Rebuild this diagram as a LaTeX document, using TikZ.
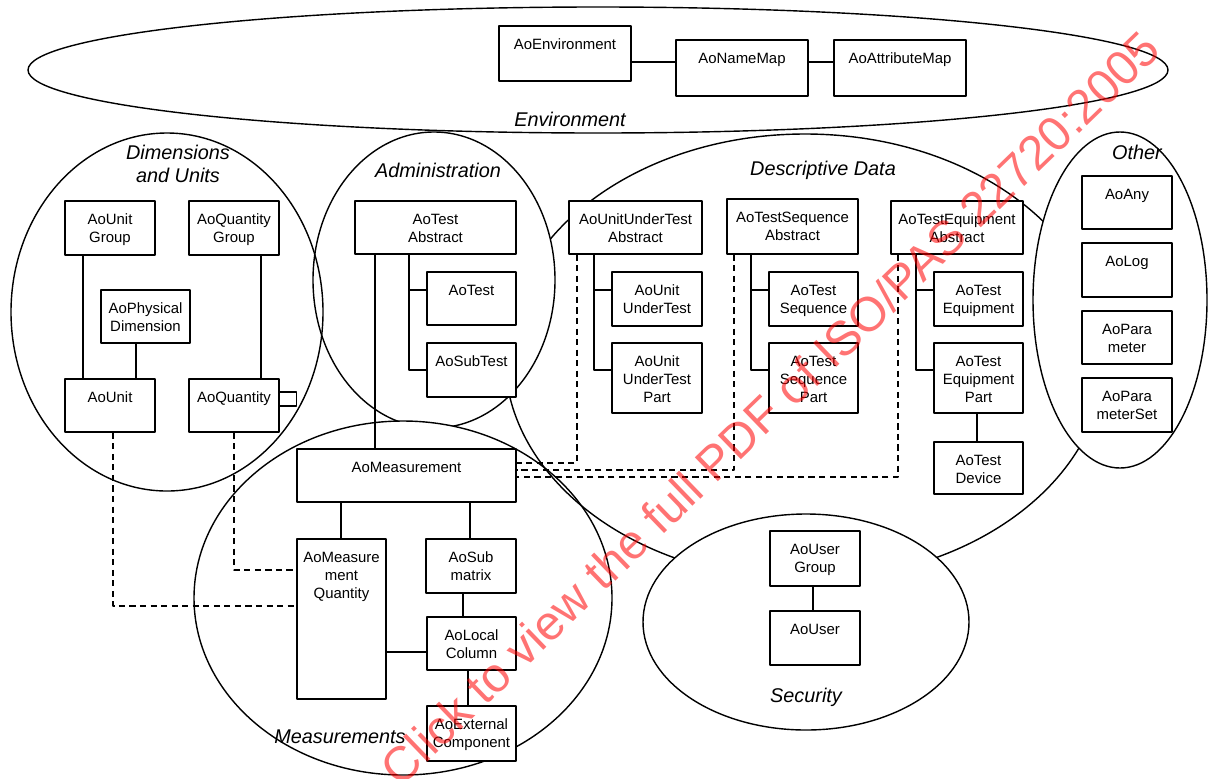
\documentclass[tikz,border=0pt]{standalone}
\usepackage{fontspec}
\setmainfont{Liberation Sans}
\usetikzlibrary{fit}
\tikzset{
  box/.style={draw,fill=white,inner sep=0pt,line width=.8pt,label={[boxtext]north:#1}},
  boxtext/.style={anchor=north,align=center,inner sep=0pt,yshift=-7.6pt,font=\fontsize{8.5}{10.2}\selectfont},
  group/.style={font=\fontsize{11.3}{13}\selectfont\itshape,align=center,inner sep=0pt},
  area/.style={line width=.8pt},
  tie/.style={line width=.8pt},
  link/.style={line width=.8pt,dash pattern=on 3.5pt off 2.5pt},
}
\begin{document}
\begin{tikzpicture}[x=0.02cm,y=-0.02cm,line join=round]
\useasboundingbox (0,0) rectangle (1209,778);
% groups
\draw[area] (805,357) ellipse [x radius=300,y radius=223];
\draw[area,fill=white] (434,280) ellipse [x radius=121,y radius=148];
\begin{scope}
  \clip (434,280) ellipse [x radius=125,y radius=152];
  \fill[white] (403,598) ellipse [x radius=209,y radius=177];
\end{scope}
\draw[area,fill=white] (1120,300) ellipse [x radius=87,y radius=168];
\draw[area,fill=white] (806,622) ellipse [x radius=163,y radius=108];
\draw[area] (167,312) ellipse [x radius=156,y radius=179];
\draw[area] (403,598) ellipse [x radius=209,y radius=177];
\draw[area] (598,70) ellipse [x radius=570,y radius=63];
\node[group] (envname) at (570,119) {Environment};
\node[group] (dimname) at (178,164) {Dimensions\\and Units};
\node[group] (admname) at (438,170) {Administration};
\node[group] (desname) at (823,170) {Descriptive Data};
\node[group] (othname) at (1137,152) {Other};
\node[group] (secname) at (806,697) {Security};
\node[group] (mesname) at (340,737) {Measurements};
% environment
\node[box={AoEnvironment},fit={(499,26)(631,81)}] (env) {};
\node[box={AoNameMap},fit={(676,40)(808,96)}] (nm) {};
\node[box={AoAttributeMap},fit={(834,40)(966,96)}] (am) {};
% dimensions and units
\node[box={AoUnit\\Group},fit={(65,201)(155,255)}] (ug) {};
\node[box={AoQuantity\\Group},fit={(189,201)(279,255)}] (qg) {};
\node[box={AoPhysical\\Dimension},fit={(101,290)(190,343)}] (pd) {};
\node[box={AoUnit},fit={(65,379)(155,432)}] (unit) {};
\node[box={AoQuantity},fit={(189,379)(279,432)}] (qty) {};
% administration
\node[box={AoTest\\Abstract},fit={(355,201)(516,254)}] (tabs) {};
\node[box={AoTest},fit={(427,272)(516,325)}] (test) {};
\node[box={AoSubTest},fit={(427,343)(516,397)}] (subt) {};
% descriptive data
\node[box={AoUnitUnderTest\\Abstract},fit={(569,201)(702,254)}] (uuta) {};
\node[box={AoUnit\\UnderTest},fit={(612,272)(702,326)}] (uut) {};
\node[box={AoUnit\\UnderTest\\Part},fit={(612,343)(702,413)}] (uutp) {};
\node[box={AoTestSequence\\Abstract},fit={(727,199)(858,254)}] (tsqa) {};
\node[box={AoTest\\Sequence},fit={(769,272)(858,326)}] (tsq) {};
\node[box={AoTest\\Sequence\\Part},fit={(769,343)(858,413)}] (tsqp) {};
\node[box={AoTestEquipment\\Abstract},fit={(891,201)(1023,254)}] (teqa) {};
\node[box={AoTest\\Equipment},fit={(934,272)(1023,326)}] (teq) {};
\node[box={AoTest\\Equipment\\Part},fit={(934,343)(1023,413)}] (teqp) {};
\node[box={AoTest\\Device},fit={(934,442)(1023,494)}] (dev) {};
% other
\node[box={AoAny},fit={(1082,176)(1172,229)}] (any) {};
\node[box={AoLog},fit={(1082,243)(1172,297)}] (log) {};
\node[box={AoPara\\meter},fit={(1082,311)(1172,364)}] (par) {};
\node[box={AoPara\\meterSet},fit={(1082,378)(1172,432)}] (pset) {};
% security
\node[box={AoUser\\Group},fit={(770,531)(860,586)}] (ugrp) {};
\node[box={AoUser},fit={(770,611)(860,665)}] (usr) {};
% measurements
\node[box={AoMeasurement},fit={(297,449)(516,502)}] (meas) {};
\node[box={AoMeasure\\ment\\Quantity},fit={(297,539)(386,699)}] (mq) {};
\node[box={AoSub\\matrix},fit={(426,539)(516,593)}] (sm) {};
\node[box={AoLocal\\Column},fit={(427,617)(516,670)}] (lc) {};
\node[box={AoExternal\\Component},fit={(427,706)(516,761)}] (ext) {};
% connectors
\foreach \a/\b/\x in {ug/unit/83,pd/unit/136,qg/qty/261,tabs/meas/375,meas/mq/341,meas/sm/470,sm/lc/463,lc/ext/468,teqp/dev/977,ugrp/usr/813}
  \draw[tie] (\a.south -| \x,0) -- (\b.north -| \x,0);
\foreach \a/\b/\y in {env/nm/62,nm/am/62,mq/lc/652}
  \draw[tie] (\a.east |- 0,\y) -- (\b.west |- 0,\y);
\foreach \a/\b/\c/\x in {tabs/test/subt/409,uuta/uut/uutp/594,tsqa/tsq/tsqp/751,teqa/teq/teqp/916}
  \draw[tie] (\b.west |- 0,290) -| (\a.south -| \x,0) (\c.west |- 0,370) -| (\a.south -| \x,0);
\draw[tie] (qty.east |- 0,392) -- ++(17,0) |- (qty.east |- 0,406);
\foreach \a/\x/\y in {uuta/577/463,tsqa/734/470,teqa/898/477}
  \draw[link] (\a.south -| \x,0) |- (meas.east |- 0,\y);
\foreach \a/\x/\y in {unit/113/606,qty/234/570}
  \draw[link] (\a.south -| \x,0) |- (mq.west |- 0,\y);
% watermark
\node[rotate=44,text=red,text opacity=.55,inner sep=0pt,font=\fontsize{27.5}{30}\selectfont] (wm) at (770,408) {Click to view the full PDF of ISO/PAS 22720:2005};
\end{tikzpicture}
\end{document}
